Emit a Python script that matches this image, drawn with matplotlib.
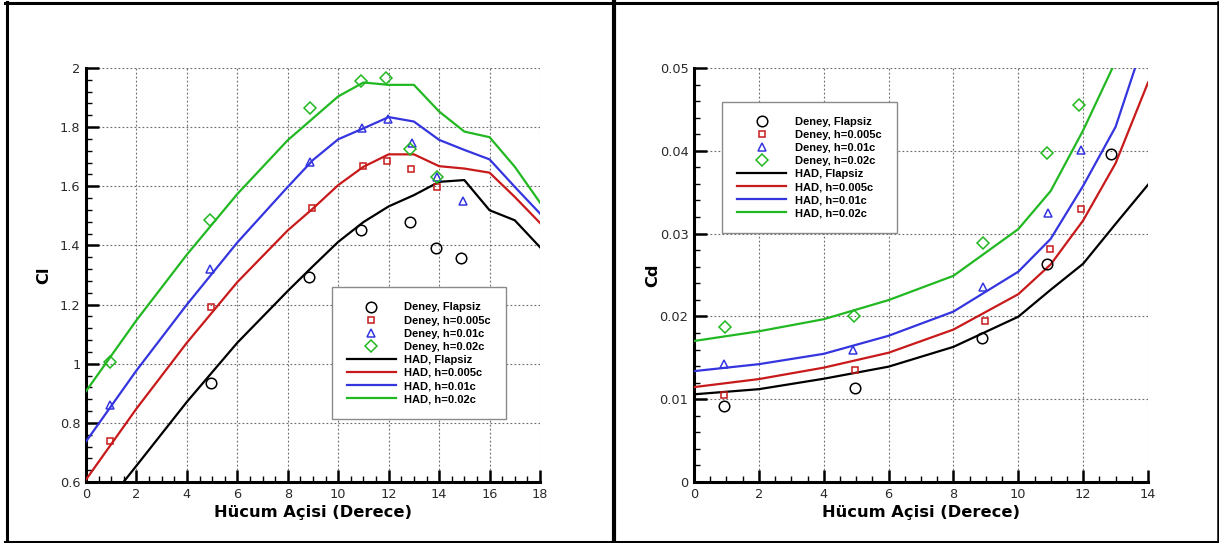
import matplotlib
matplotlib.use("Agg")
import matplotlib.pyplot as plt
from matplotlib.lines import Line2D
from matplotlib.ticker import MultipleLocator, FuncFormatter

# ---------------- data ----------------
series_names = ["Flapsiz", "h=0.005c", "h=0.01c", "h=0.02c"]
colors = ["#000000", "#c81a1a", "#3535e0", "#22b822"]
markers = ["o", "s", "^", "D"]

# Cl experiment (Deney)
cl_exp_x_flapsiz = [4.95, 8.86, 10.9, 12.86, 13.86, 14.88]
cl_exp_y_flapsiz = [0.936, 1.293, 1.451, 1.479, 1.392, 1.357]
cl_exp_x_h005 = [0.95, 4.95, 8.96, 10.97, 11.93, 12.9, 13.9]
cl_exp_y_h005 = [0.737, 1.192, 1.527, 1.670, 1.686, 1.658, 1.598]
cl_exp_x_h01 = [0.95, 4.92, 8.9, 10.95, 11.96, 12.93, 13.9, 14.93]
cl_exp_y_h01 = [0.862, 1.320, 1.683, 1.796, 1.829, 1.748, 1.632, 1.550]
cl_exp_x_h02 = [0.95, 4.92, 8.9, 10.9, 11.9, 12.86, 13.9]
cl_exp_y_h02 = [1.006, 1.485, 1.866, 1.955, 1.966, 1.725, 1.630]

# Cl CFD (HAD)
cl_had_x = [0, 2, 4, 6, 8, 9, 10, 11, 12, 13, 14, 15, 16, 17, 18]
cl_had_flapsiz = [0.44, 0.655, 0.871, 1.071, 1.246, 1.33, 1.412, 1.479, 1.532, 1.570, 1.615, 1.621, 1.519, 1.485, 1.394]
cl_had_h005 = [0.608, 0.848, 1.071, 1.276, 1.451, 1.525, 1.604, 1.666, 1.708, 1.708, 1.668, 1.660, 1.646, 1.564, 1.476]
cl_had_h01 = [0.737, 0.977, 1.200, 1.410, 1.598, 1.689, 1.759, 1.796, 1.834, 1.819, 1.757, 1.723, 1.691, 1.598, 1.508]
cl_had_h02 = [0.907, 1.147, 1.369, 1.574, 1.756, 1.830, 1.904, 1.951, 1.943, 1.943, 1.853, 1.785, 1.766, 1.666, 1.545]

# Cd experiment (Deney)
cd_exp_x_flapsiz = [0.94, 4.96, 8.87, 10.89, 12.85]
cd_exp_y_flapsiz = [0.00921, 0.0113, 0.01736, 0.02636, 0.0396]
cd_exp_x_h005 = [0.91, 4.96, 8.96, 10.97, 11.93]
cd_exp_y_h005 = [0.01054, 0.01347, 0.01946, 0.02812, 0.03293]
cd_exp_x_h01 = [0.94, 4.90, 8.92, 10.93, 11.93]
cd_exp_y_h01 = [0.01423, 0.01598, 0.02356, 0.03251, 0.04004]
cd_exp_x_h02 = [0.96, 4.93, 8.90, 10.90, 11.88]
cd_exp_y_h02 = [0.0187, 0.0200, 0.02883, 0.03971, 0.04548]

# Cd CFD (HAD)
cd_had_x = [0, 2, 4, 6, 8, 10, 11, 12, 13, 14]
cd_had_flapsiz = [0.01059, 0.01121, 0.01247, 0.01393, 0.01632, 0.01996, 0.02322, 0.02636, 0.03117, 0.0359]
cd_had_h005 = [0.01146, 0.01243, 0.01381, 0.01561, 0.01841, 0.02268, 0.02628, 0.03159, 0.03849, 0.04824]
cd_had_h01 = [0.01339, 0.01423, 0.01548, 0.01766, 0.02058, 0.0254, 0.02937, 0.03577, 0.04289, 0.0547]
cd_had_h02 = [0.01703, 0.0182, 0.01966, 0.02197, 0.0249, 0.03054, 0.03515, 0.04247, 0.0508, 0.061]

xlabel_text = "Hücum Açisi (Derece)"

# ---------------- figure ----------------
W, H = 1219, 543
fig = plt.figure(figsize=(W / 100, H / 100), dpi=100)
fig.patch.set_facecolor("white")

ms = {"o": 7.6, "s": 5.0, "^": 6.4, "D": 5.8}
grid_kw = dict(color="#6a6a6a", linestyle=(0, (1.6, 2.0)), linewidth=0.8)


def fmt_g(v, pos):
    s = "%.4f" % round(v, 4)
    s = s.rstrip("0").rstrip(".")
    if s in ("", "-0"):
        s = "0"
    return s


def style_axes(ax, xmaj, xmin, ymaj, ymin):
    ax.spines["top"].set_visible(False)
    ax.spines["right"].set_visible(False)
    for s in ("left", "bottom"):
        ax.spines[s].set_linewidth(2.2)
        ax.spines[s].set_color("black")
    ax.xaxis.set_major_locator(MultipleLocator(xmaj))
    ax.xaxis.set_minor_locator(MultipleLocator(xmin))
    ax.yaxis.set_major_locator(MultipleLocator(ymaj))
    ax.yaxis.set_minor_locator(MultipleLocator(ymin))
    ax.yaxis.set_major_formatter(FuncFormatter(fmt_g))
    ax.xaxis.set_major_formatter(FuncFormatter(fmt_g))
    ax.tick_params(which="major", direction="in", length=9, width=1.8,
                   labelsize=9.3, labelcolor="#2a2a2a", pad=4,
                   top=False, right=False)
    ax.tick_params(which="minor", direction="in", length=4.5, width=1.0,
                   top=False, right=False)
    ax.grid(True, which="major", **grid_kw)
    ax.set_axisbelow(True)
    for lab in ax.get_xticklabels() + ax.get_yticklabels():
        lab.set_fontfamily("DejaVu Sans")
    ax.set_xlabel(xlabel_text, fontsize=11.7, fontweight="bold",
                  family="DejaVu Sans", labelpad=3)


def draw(ax, exp_x, exp_y, had_x, had_y):
    handles = []
    for i in range(4):
        h, = ax.plot(exp_x[i], exp_y[i], linestyle="none", marker=markers[i],
                     markersize=ms[markers[i]], markerfacecolor="none",
                     markeredgecolor=colors[i], markeredgewidth=1.1,
                     label="Deney, " + series_names[i], zorder=4)
        handles.append(h)
    for i in range(4):
        h, = ax.plot(had_x, had_y[i], color=colors[i], linewidth=1.6,
                     label="HAD, " + series_names[i], zorder=3)
        handles.append(h)
    return handles


def add_legend(ax, handles, anchor):
    leg = ax.legend(handles=handles, loc="upper left", bbox_to_anchor=anchor,
                    borderaxespad=0, frameon=True, fancybox=False,
                    edgecolor="#8a8a8a", framealpha=1,
                    prop={"family": "Liberation Sans", "weight": "bold", "size": 8.0},
                    handlelength=4.4, handletextpad=0.8, labelspacing=0.28,
                    borderpad=1.35, numpoints=1)
    leg.get_frame().set_linewidth(1.0)
    return leg


# left axes (Cl)
ax1 = fig.add_axes([86 / W, 1 - 482 / H, 454 / W, 414 / H])
ax1.set_xlim(0, 18)
ax1.set_ylim(0.6, 2.0)
hs = draw(ax1,
          [cl_exp_x_flapsiz, cl_exp_x_h005, cl_exp_x_h01, cl_exp_x_h02],
          [cl_exp_y_flapsiz, cl_exp_y_h005, cl_exp_y_h01, cl_exp_y_h02],
          cl_had_x, [cl_had_flapsiz, cl_had_h005, cl_had_h01, cl_had_h02])
style_axes(ax1, 2, 0.5, 0.2, 0.04)
ax1.set_ylabel("Cl", fontsize=11.7, fontweight="bold", family="DejaVu Sans")
ax1.yaxis.set_label_coords(-0.077, 0.5)
add_legend(ax1, hs, (0.541, 0.470))

# right axes (Cd)
ax2 = fig.add_axes([694 / W, 1 - 482 / H, 454 / W, 414 / H])
ax2.set_xlim(0, 14)
ax2.set_ylim(0, 0.05)
hs2 = draw(ax2,
           [cd_exp_x_flapsiz, cd_exp_x_h005, cd_exp_x_h01, cd_exp_x_h02],
           [cd_exp_y_flapsiz, cd_exp_y_h005, cd_exp_y_h01, cd_exp_y_h02],
           cd_had_x, [cd_had_flapsiz, cd_had_h005, cd_had_h01, cd_had_h02])
style_axes(ax2, 2, 0.5, 0.01, 0.002)
ax2.set_ylabel("Cd", fontsize=11.7, fontweight="bold", family="DejaVu Sans")
ax2.yaxis.set_label_coords(-0.075, 0.5)
add_legend(ax2, hs2, (0.0626, 0.919))


# frame lines around panels
def hline(y, x0, x1, lw):
    fig.add_artist(Line2D([x0 / W, x1 / W], [1 - y / H, 1 - y / H],
                          transform=fig.transFigure, color="black", linewidth=lw))


def vline(x, y0, y1, lw):
    fig.add_artist(Line2D([x / W, x / W], [1 - y0 / H, 1 - y1 / H],
                          transform=fig.transFigure, color="black", linewidth=lw))


hline(3.3, 5, 1219, 2.2)
hline(541.5, 5, 1219, 2.2)
vline(6.5, 2, 543, 2.2)
vline(613.8, 2, 543, 3.0)
vline(1217.5, 2, 543, 1.8)

fig.savefig("out.png", dpi=100, facecolor="white")
